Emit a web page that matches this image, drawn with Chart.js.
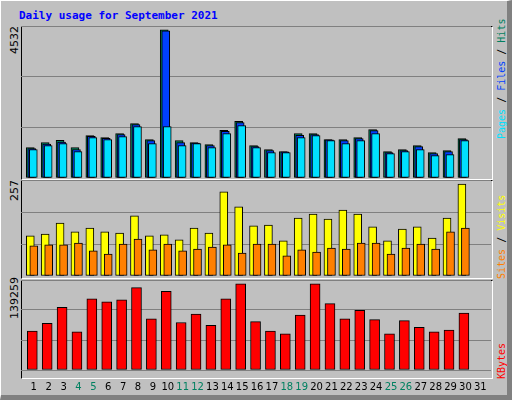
<!DOCTYPE html>
<html><head><meta charset="utf-8">
<script src="https://cdn.jsdelivr.net/npm/chart.js@4"></script>
<style>
body{margin:0;background:#fff;overflow:hidden;}
#wrap{position:absolute;left:0;top:0;width:506px;height:394px;background:#c0c0c0;border-top:1px solid #fff;border-left:1px solid #fff;border-right:5px solid #808080;border-bottom:5px solid #808080;}
.pn{position:absolute;left:20px;width:470px;border-top:1px solid #000;border-left:1px solid #000;border-right:1px solid #fff;border-bottom:1px solid #fff;}
canvas{position:absolute;left:0;top:0;}
#title{position:absolute;left:18px;top:8px;font:bold 11px "DejaVu Sans Mono",monospace;color:#0000ff;}
.rl{position:absolute;font:10px "DejaVu Sans Mono",monospace;transform:rotate(-90deg);transform-origin:left top;white-space:nowrap;line-height:12px;}
.ll{font:11px "DejaVu Sans",sans-serif;}
</style></head><body>
<div id="wrap">
<div id="title">Daily usage for September 2021</div>
<div class="pn" style="top:25px;height:152px"></div>
<div class="pn" style="top:179px;height:97px"></div>
<div class="pn" style="top:279px;height:97px"></div>
<div id="lab"></div>
</div>
<canvas id="c1" style="left:21px;top:26px"></canvas>
<canvas id="c2" style="left:21px;top:180px"></canvas>
<canvas id="c3" style="left:21px;top:280px"></canvas>
<script>
const days=[1,2,3,4,5,6,7,8,9,10,11,12,13,14,15,16,17,18,19,20,21,22,23,24,25,26,27,28,29,30,31];
const weekend=[4,5,11,12,18,19,25,26];
const hits =[930,1080,1150,930,1295,1235,1357,1663,1175,4532,1143,1080,1020,1460,1735,990,870,806,1357,1357,1175,1175,1235,1480,806,867,990,776,837,1204,null];
const files=[900,1040,1100,870,1275,1215,1326,1632,1143,4500,1080,1070,990,1429,1694,960,837,796,1306,1326,1163,1143,1204,1449,776,837,960,745,806,1175,null];
const pages=[870,990,1050,805,1235,1175,1265,1571,1050,1571,990,1050,930,1357,1602,930,776,776,1235,1296,1143,1050,1143,1357,745,806,867,684,714,1143,null];
const visits=[112,117,148,123,134,123,120,168,112,115,101,134,120,235,193,140,142,98,162,173,159,184,173,137,98,131,137,106,162,257,null];
const sites=[84,87,87,92,70,61,89,103,73,89,70,75,81,87,64,89,89,56,73,67,78,75,92,92,61,78,89,75,123,134,null];
const kbytes=[63000,75200,101100,61500,114800,110200,113300,133100,82800,127000,76700,90400,72100,114800,139259,78200,63000,58400,88900,139259,107200,82800,96500,81300,58400,79800,69100,61500,64500,91900,null];

const XMIN=0.14, XMAX=31.72;
function pts(arr){return days.map((d,i)=>({x:d,y:arr[i]}));}
function xax(shift,show){return {type:'linear',display:show,min:XMIN+shift,max:XMAX+shift,offset:false,
  grid:{display:false},border:{display:false},
  afterBuildTicks:s=>{s.ticks=days.map(d=>({value:d}));},
  ticks:{display:show,autoSkip:false,maxRotation:0,padding:3,font:{family:'DejaVu Sans',size:10},
   color:c=>weekend.includes(c.tick.value)?'#008060':'#000',callback:v=>String(v)}};}
function yax(max){return {display:true,min:0,max:max,ticks:{display:false,stepSize:max/3},
  grid:{color:'#808080',drawTicks:false,lineWidth:1},border:{display:false}};}
function ds(data,color,axis,w,order){return {data:pts(data),backgroundColor:color,borderColor:'#000',borderWidth:1,
  barThickness:w,grouped:false,xAxisID:axis,order:order,borderSkipped:false};}
function mk(id,datasets,scales){
  const c=document.getElementById(id);
  return new Chart(c,{type:'bar',data:{datasets},options:{responsive:false,animation:false,
   layout:{padding:0},
   plugins:{legend:{display:false},tooltip:{enabled:false}},scales}});
}
function size(id,w,h){const c=document.getElementById(id);c.width=w;c.height=h;c.style.width=w+'px';c.style.height=h+'px';}
size('c1',470,152);size('c2',470,96);size('c3',470,116);
const hmax=Math.max(...hits.filter(v=>v!=null));
const vmax=Math.max(...visits.filter(v=>v!=null));
const kmax=Math.max(...kbytes.filter(v=>v!=null));
mk('c1',[ds(hits,'#00805c','xh',8,3),ds(files,'#0040ff','xf',8,2),ds(pages,'#00e0ff','xp',8,1)],
 {xh:xax(0.235,false),xf:xax(0.134,false),xp:xax(0.034,false),y:yax(hmax*1.025)});
mk('c2',[ds(visits,'#ffff00','xv',8,2),ds(sites,'#ff8000','xs',8,1)],
 {xv:xax(0.235,false),xs:xax(0,false),y:yax(vmax*1.043)});
mk('c3',[ds(kbytes,'#ff0000','xk',10,1),{data:pts(kbytes.map(()=>null)),xAxisID:'x'}],
 {xk:xax(0.1,false),x:xax(0,true),y:yax(kmax*1.044)});

const lab=document.getElementById('lab');
function rot(x,yb,parts,cls){const d=document.createElement('div');d.className='rl'+(cls?' '+cls:'');d.style.left=x+'px';d.style.top=yb+'px';
 d.innerHTML=parts.map(p=>'<span style="color:'+p[1]+'">'+p[0]+'</span>').join('');lab.appendChild(d);}
rot(7,53,[[String(hmax),'#000']],'ll');
rot(7,200,[[String(vmax),'#000']],'ll');
rot(7,318,[[String(kmax),'#000']],'ll');
rot(495,138,[['Pages','#00e0ff'],[' / ','#000'],['Files','#0040ff'],[' / ','#000'],['Hits','#008060']]);
rot(495,278,[['Sites','#ff8000'],[' / ','#000'],['Visits','#ffff00']]);
rot(495,378,[['KBytes','#ff0000']]);
</script></body></html>
